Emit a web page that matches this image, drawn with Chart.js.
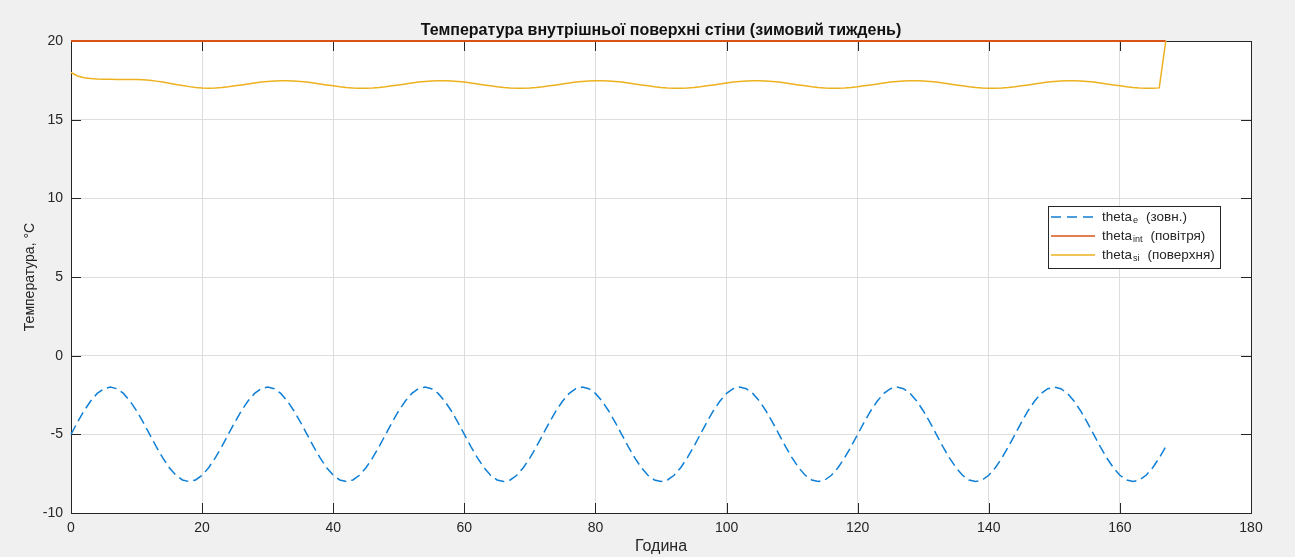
<!DOCTYPE html>
<html lang="uk">
<head>
  <meta charset="UTF-8">
  <title>Температура внутрішньої поверхні стіни</title>
  <script src="https://cdn.jsdelivr.net/npm/chart.js"></script>
  <style>
    html, body { margin: 0; padding: 0; background: #f0f0f0; }
    #wrap { width: 1295px; height: 557px; }
  </style>
</head>
<body>
  <div id="wrap"><canvas id="tempChart" width="1295" height="557"></canvas></div>

  <script>
    // hour index of the week, 0..167
    const hours = Array.from({ length: 168 }, (_, i) => i);

    // outdoor air, °C (hourly)
    const thetaE = [
      -5.00, -4.22, -3.50, -2.88, -2.40, -2.10, -2.00, -2.10, -2.40, -2.88, -3.50, -4.22, -5.00, -5.78, -6.50, -7.12, -7.60, -7.90, -8.00, -7.90, -7.60, -7.12, -6.50, -5.78,
      -5.00, -4.22, -3.50, -2.88, -2.40, -2.10, -2.00, -2.10, -2.40, -2.88, -3.50, -4.22, -5.00, -5.78, -6.50, -7.12, -7.60, -7.90, -8.00, -7.90, -7.60, -7.12, -6.50, -5.78,
      -5.00, -4.22, -3.50, -2.88, -2.40, -2.10, -2.00, -2.10, -2.40, -2.88, -3.50, -4.22, -5.00, -5.78, -6.50, -7.12, -7.60, -7.90, -8.00, -7.90, -7.60, -7.12, -6.50, -5.78,
      -5.00, -4.22, -3.50, -2.88, -2.40, -2.10, -2.00, -2.10, -2.40, -2.88, -3.50, -4.22, -5.00, -5.78, -6.50, -7.12, -7.60, -7.90, -8.00, -7.90, -7.60, -7.12, -6.50, -5.78,
      -5.00, -4.22, -3.50, -2.88, -2.40, -2.10, -2.00, -2.10, -2.40, -2.88, -3.50, -4.22, -5.00, -5.78, -6.50, -7.12, -7.60, -7.90, -8.00, -7.90, -7.60, -7.12, -6.50, -5.78,
      -5.00, -4.22, -3.50, -2.88, -2.40, -2.10, -2.00, -2.10, -2.40, -2.88, -3.50, -4.22, -5.00, -5.78, -6.50, -7.12, -7.60, -7.90, -8.00, -7.90, -7.60, -7.12, -6.50, -5.78,
      -5.00, -4.22, -3.50, -2.88, -2.40, -2.10, -2.00, -2.10, -2.40, -2.88, -3.50, -4.22, -5.00, -5.78, -6.50, -7.12, -7.60, -7.90, -8.00, -7.90, -7.60, -7.12, -6.50, -5.78
    ];

    // indoor air, °C
    const thetaInt = [
      20, 20, 20, 20, 20, 20, 20, 20, 20, 20, 20, 20, 20, 20, 20, 20, 20, 20, 20, 20, 20, 20, 20, 20,
      20, 20, 20, 20, 20, 20, 20, 20, 20, 20, 20, 20, 20, 20, 20, 20, 20, 20, 20, 20, 20, 20, 20, 20,
      20, 20, 20, 20, 20, 20, 20, 20, 20, 20, 20, 20, 20, 20, 20, 20, 20, 20, 20, 20, 20, 20, 20, 20,
      20, 20, 20, 20, 20, 20, 20, 20, 20, 20, 20, 20, 20, 20, 20, 20, 20, 20, 20, 20, 20, 20, 20, 20,
      20, 20, 20, 20, 20, 20, 20, 20, 20, 20, 20, 20, 20, 20, 20, 20, 20, 20, 20, 20, 20, 20, 20, 20,
      20, 20, 20, 20, 20, 20, 20, 20, 20, 20, 20, 20, 20, 20, 20, 20, 20, 20, 20, 20, 20, 20, 20, 20,
      20, 20, 20, 20, 20, 20, 20, 20, 20, 20, 20, 20, 20, 20, 20, 20, 20, 20, 20, 20, 20, 20, 20, 20
    ];

    // inner wall surface, °C
    const thetaSi = [
      18.00, 17.78, 17.66, 17.61, 17.58, 17.57, 17.57, 17.56, 17.56, 17.55, 17.55, 17.53, 17.50, 17.45, 17.39, 17.31, 17.24, 17.17, 17.10, 17.05, 17.02, 17.00, 17.01, 17.04,
      17.09, 17.15, 17.21, 17.27, 17.33, 17.39, 17.43, 17.46, 17.48, 17.48, 17.46, 17.43, 17.39, 17.33, 17.27, 17.21, 17.15, 17.09, 17.05, 17.02, 17.00, 17.00, 17.02, 17.05,
      17.09, 17.15, 17.21, 17.27, 17.33, 17.39, 17.43, 17.46, 17.48, 17.48, 17.46, 17.43, 17.39, 17.33, 17.27, 17.21, 17.15, 17.09, 17.05, 17.02, 17.00, 17.00, 17.02, 17.05,
      17.09, 17.15, 17.21, 17.27, 17.33, 17.39, 17.43, 17.46, 17.48, 17.48, 17.46, 17.43, 17.39, 17.33, 17.27, 17.21, 17.15, 17.09, 17.05, 17.02, 17.00, 17.00, 17.02, 17.05,
      17.09, 17.15, 17.21, 17.27, 17.33, 17.39, 17.43, 17.46, 17.48, 17.48, 17.46, 17.43, 17.39, 17.33, 17.27, 17.21, 17.15, 17.09, 17.05, 17.02, 17.00, 17.00, 17.02, 17.05,
      17.09, 17.15, 17.21, 17.27, 17.33, 17.39, 17.43, 17.46, 17.48, 17.48, 17.46, 17.43, 17.39, 17.33, 17.27, 17.21, 17.15, 17.09, 17.05, 17.02, 17.00, 17.00, 17.02, 17.05,
      17.09, 17.15, 17.21, 17.27, 17.33, 17.39, 17.43, 17.46, 17.48, 17.48, 17.46, 17.43, 17.39, 17.33, 17.27, 17.21, 17.15, 17.09, 17.05, 17.02, 17.00, 17.00, 17.02, 20.00
    ];

    const seriesNames = ['theta', 'theta', 'theta'];
    const seriesSubs = ['e', 'int', 'si'];
    const seriesNotes = ['(зовн.)', '(повітря)', '(поверхня)'];

    const BLUE = '#0f7fd6';
    const RED = '#d95319';
    const YELLOW = '#edb120';
    const INK = '#262626';
    const FONT = "'Liberation Sans', Arial, sans-serif";

    const toPoints = arr => hours.map((h, i) => ({ x: h, y: arr[i] }));

    // grey figure, white axes, box with inward ticks, legend inside the axes
    const framePlugin = {
      id: 'frame',
      beforeDraw(chart) {
        const { ctx, chartArea: a } = chart;
        ctx.save();
        ctx.fillStyle = '#f0f0f0';
        ctx.fillRect(0, 0, chart.width, chart.height);
        ctx.fillStyle = '#ffffff';
        ctx.fillRect(a.left, a.top, a.right - a.left, a.bottom - a.top);
        ctx.restore();
      },
      beforeDatasetsDraw(chart) {
        const { ctx, chartArea: a, scales } = chart;
        const tl = 10;
        ctx.save();
        ctx.strokeStyle = INK;
        ctx.lineWidth = 1;
        ctx.beginPath();
        scales.x.ticks.forEach(t => {
          const px = Math.round(scales.x.getPixelForValue(t.value)) + 0.5;
          ctx.moveTo(px, a.bottom); ctx.lineTo(px, a.bottom - tl);
          ctx.moveTo(px, a.top); ctx.lineTo(px, a.top + tl);
        });
        scales.y.ticks.forEach(t => {
          const py = Math.round(scales.y.getPixelForValue(t.value)) + 0.5;
          ctx.moveTo(a.left, py); ctx.lineTo(a.left + tl, py);
          ctx.moveTo(a.right, py); ctx.lineTo(a.right - tl, py);
        });
        ctx.stroke();
        ctx.strokeRect(Math.round(a.left) + 0.5, Math.round(a.top) + 0.5,
          Math.round(a.right - a.left), Math.round(a.bottom - a.top));
        ctx.restore();
      },
      afterDraw(chart) {
        const { ctx } = chart;
        const box = { x: 1048, y: 206, w: 172, h: 62 };
        const colors = [BLUE, RED, YELLOW];
        ctx.save();
        ctx.fillStyle = '#ffffff';
        ctx.fillRect(box.x, box.y, box.w, box.h);
        ctx.strokeStyle = INK;
        ctx.lineWidth = 1;
        ctx.strokeRect(box.x + 0.5, box.y + 0.5, box.w, box.h);
        ctx.textBaseline = 'middle';
        for (let i = 0; i < 3; i++) {
          const y = box.y + 11 + i * 19;
          ctx.strokeStyle = colors[i];
          ctx.lineWidth = 1.5;
          ctx.setLineDash(i === 0 ? [10, 6] : []);
          ctx.beginPath();
          ctx.moveTo(1051, y); ctx.lineTo(1095, y);
          ctx.stroke();
          ctx.setLineDash([]);
          ctx.fillStyle = INK;
          let x = 1102;
          ctx.font = '13.5px ' + FONT;
          ctx.fillText(seriesNames[i], x, y);
          x += ctx.measureText(seriesNames[i]).width + 1;
          ctx.font = '9px ' + FONT;
          ctx.fillText(seriesSubs[i], x, y + 4);
          x += ctx.measureText(seriesSubs[i]).width + 8;
          ctx.font = '13.5px ' + FONT;
          ctx.fillText(seriesNotes[i], x, y);
        }
        ctx.restore();
      }
    };

    const lineSet = (label, arr, color, dash, width) => ({
      label,
      data: toPoints(arr),
      borderColor: color,
      backgroundColor: color,
      borderWidth: width,
      borderDash: dash,
      pointRadius: 0,
      tension: 0,
      fill: false,
      clip: 4
    });

    new Chart(document.getElementById('tempChart'), {
      type: 'line',
      data: {
        datasets: [
          { ...lineSet('theta_e (зовн.)', thetaE, BLUE, [10, 5], 1.5), order: 3 },
          { ...lineSet('theta_int (повітря)', thetaInt, RED, [], 2), order: 2 },
          { ...lineSet('theta_si (поверхня)', thetaSi, YELLOW, [], 1.5), order: 1 }
        ]
      },
      options: {
        responsive: false,
        animation: false,
        layout: { padding: { top: 0, right: 44, left: 0, bottom: 0 } },
        plugins: {
          legend: { display: false },
          tooltip: { enabled: false },
          title: {
            display: true,
            fullSize: false,
            text: 'Температура внутрішньої поверхні стіни (зимовий тиждень)',
            color: '#111',
            font: { family: FONT, size: 16, weight: 'bold' },
            padding: { top: 20.5, bottom: 1.3 }
          }
        },
        scales: {
          x: {
            type: 'linear',
            min: 0,
            max: 180,
            afterFit: s => { s.height = 44; },
            ticks: { stepSize: 20, color: INK, padding: 7, font: { family: FONT, size: 14 } },
            grid: { color: '#dedede', drawTicks: false },
            border: { display: false },
            title: {
              display: true,
              text: 'Година',
              color: INK,
              font: { family: FONT, size: 16 },
              padding: { top: 0, bottom: 0.5 }
            }
          },
          y: {
            min: -10,
            max: 20,
            afterFit: s => { s.width = 71; },
            ticks: { stepSize: 5, color: INK, padding: 8, font: { family: FONT, size: 14 } },
            grid: { color: '#dedede', drawTicks: false },
            border: { display: false },
            title: {
              display: true,
              text: 'Температура, °C',
              color: INK,
              font: { family: FONT, size: 14 },
              padding: { top: 22, bottom: 0 }
            }
          }
        }
      },
      plugins: [framePlugin]
    });
  </script>
</body>
</html>
